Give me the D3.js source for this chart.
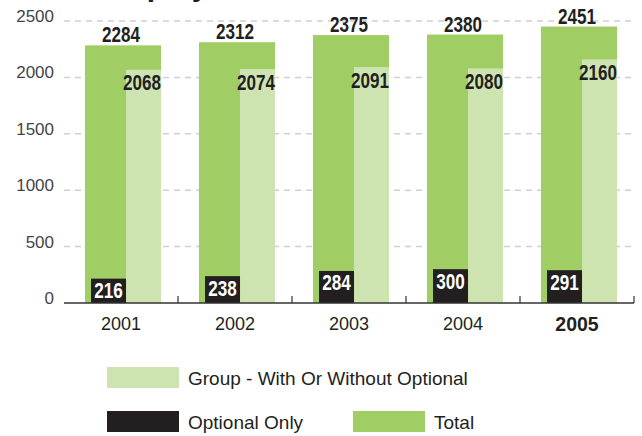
<!DOCTYPE html>
<html>
<head>
    <title>Group / Optional / Total</title>
    <meta charset="utf-8">
</head>
<body style="margin:0;background:#fff">
<style>
    text { font-family: "Liberation Sans", Arial, sans-serif; }
    .num { font-weight: bold; font-size: 22px; }
</style>
<script src="https://d3js.org/d3.v7.min.js"></script>
<script>
    // data
    const years = ['2001', '2002', '2003', '2004', '2005'];
    const total = [2284, 2312, 2375, 2380, 2451];
    const group = [2068, 2074, 2091, 2080, 2160];
    const optional = [216, 238, 284, 300, 291];
    const yTicks = [0, 500, 1000, 1500, 2000, 2500];

    const SIZES = {
        WIDTH: 642,
        HEIGHT: 436,
        LEFT: 64,
        RIGHT: 634,
        TOP: 21,
        BOTTOM: 303,
        DIGIT: 9.5 // width of one digit in the condensed value labels
    };
    const COLORS = {
        total: '#a0cd64',
        group: '#cde4b1',
        optional: '#231f20',
        grid: '#d0d0d0',
        ink: '#231f20'
    };

    const svg = d3.select('body').append('svg')
        .attr('width', SIZES.WIDTH)
        .attr('height', SIZES.HEIGHT);

    const x = d3.scaleBand().domain(years).range([SIZES.LEFT, SIZES.RIGHT]);
    const y = d3.scaleLinear().domain([0, 2500]).range([SIZES.BOTTOM, SIZES.TOP]);
    const bw = x.bandwidth();
    // inner positions inside each band (fractions of the band)
    const inner = d3.scaleBand().domain(['optional', 'group'])
        .range([bw * 0.237, bw * 0.851]);
    const totalX0 = bw * 0.184;
    const totalW = bw * 0.851 - totalX0;

    // title, mostly cut off at the top of the picture
    svg.append('text')
        .attr('x', 100).attr('y', -4)
        .style('font-weight', 'bold').style('font-size', '30px')
        .attr('fill', COLORS.ink)
        .text('Employees');

    // dashed grid
    svg.append('g')
        .selectAll('line')
        .data(yTicks.filter(d => d > 0))
        .join('line')
        .attr('x1', SIZES.LEFT).attr('x2', SIZES.RIGHT - 2)
        .attr('y1', d => y(d)).attr('y2', d => y(d))
        .attr('stroke', COLORS.grid)
        .attr('stroke-width', 1.5)
        .attr('stroke-dasharray', '6,5');

    // y labels
    svg.append('g')
        .selectAll('text')
        .data(yTicks)
        .join('text')
        .attr('x', 54)
        .attr('y', d => y(d) + 1)
        .attr('text-anchor', 'end')
        .attr('fill', '#444')
        .style('font-size', '17px')
        .text(d => d);

    const rows = years.map((yr, i) => ({year: yr, total: total[i], group: group[i], optional: optional[i]}));

    const g = svg.append('g')
        .selectAll('g')
        .data(rows)
        .join('g')
        .attr('transform', d => `translate(${x(d.year)},0)`);

    g.append('rect')
        .attr('x', totalX0)
        .attr('width', totalW)
        .attr('y', d => y(d.total))
        .attr('height', d => y(0) - y(d.total))
        .attr('fill', COLORS.total);

    g.append('rect')
        .attr('x', inner('group'))
        .attr('width', inner.bandwidth())
        .attr('y', d => y(d.group))
        .attr('height', d => y(0) - y(d.group))
        .attr('fill', COLORS.group);

    g.append('rect')
        .attr('x', inner('optional'))
        .attr('width', inner.bandwidth())
        .attr('y', d => y(d.optional))
        .attr('height', d => y(0) - y(d.optional))
        .attr('fill', COLORS.optional);

    // condensed value label helper
    const numLabel = (sel, cls) => sel.append('text')
        .attr('class', 'num ' + cls)
        .attr('lengthAdjust', 'spacingAndGlyphs');

    numLabel(g, 'tot')
        .attr('x', bw / 2)
        .attr('y', d => y(d.total) - 3)
        .attr('text-anchor', 'middle')
        .attr('textLength', d => String(d.total).length * SIZES.DIGIT)
        .attr('fill', COLORS.ink)
        .text(d => d.total);

    numLabel(g, 'grp')
        .attr('x', inner('group') + inner.bandwidth())
        .attr('y', d => y(d.group) + 20.5)
        .attr('text-anchor', 'end')
        .attr('textLength', d => String(d.group).length * SIZES.DIGIT)
        .attr('fill', COLORS.ink)
        .text(d => d.group);

    numLabel(g, 'opt')
        .attr('x', inner('optional') + inner.bandwidth() / 2)
        .attr('y', d => y(d.optional) + 19.5)
        .attr('text-anchor', 'middle')
        .attr('textLength', d => String(d.optional).length * SIZES.DIGIT)
        .attr('fill', '#fff')
        .text(d => d.optional);

    // x axis
    const axis = svg.append('g')
        .attr('transform', `translate(0,${y(0)})`)
        .call(d3.axisBottom(x).tickSize(0).tickPadding(14).tickSizeOuter(0));
    axis.select('.domain').remove();
    axis.selectAll('text')
        .attr('fill', COLORS.ink)
        .style('font-family', '"Liberation Sans", Arial, sans-serif')
        .style('font-size', d => d === '2005' ? '19.5px' : '18px')
        .style('font-weight', d => d === '2005' ? 'bold' : 'normal');
    axis.append('line')
        .attr('x1', SIZES.LEFT).attr('x2', SIZES.RIGHT)
        .attr('stroke', '#333').attr('stroke-width', 1.5);
    axis.selectAll('.sep')
        .data(years.slice(1).concat(['end']))
        .join('line')
        .attr('class', 'sep')
        .attr('x1', d => d === 'end' ? SIZES.RIGHT : x(d))
        .attr('x2', d => d === 'end' ? SIZES.RIGHT : x(d))
        .attr('y1', 0).attr('y2', -7)
        .attr('stroke', '#333').attr('stroke-width', 1.2);

    // legend
    const legendItems = [
        {label: 'Group - With Or Without Optional', color: COLORS.group, x: 107, y: 367},
        {label: 'Optional Only', color: COLORS.optional, x: 107, y: 411},
        {label: 'Total', color: COLORS.total, x: 353, y: 411}
    ];
    const lg = svg.append('g')
        .selectAll('g')
        .data(legendItems)
        .join('g')
        .attr('transform', d => `translate(${d.x},${d.y})`);
    lg.append('rect')
        .attr('width', 72).attr('height', 21)
        .attr('fill', d => d.color);
    lg.append('text')
        .attr('x', 81).attr('y', 17.5)
        .attr('fill', COLORS.ink)
        .style('font-size', '19px')
        .text(d => d.label);
</script>
</body>
</html>
